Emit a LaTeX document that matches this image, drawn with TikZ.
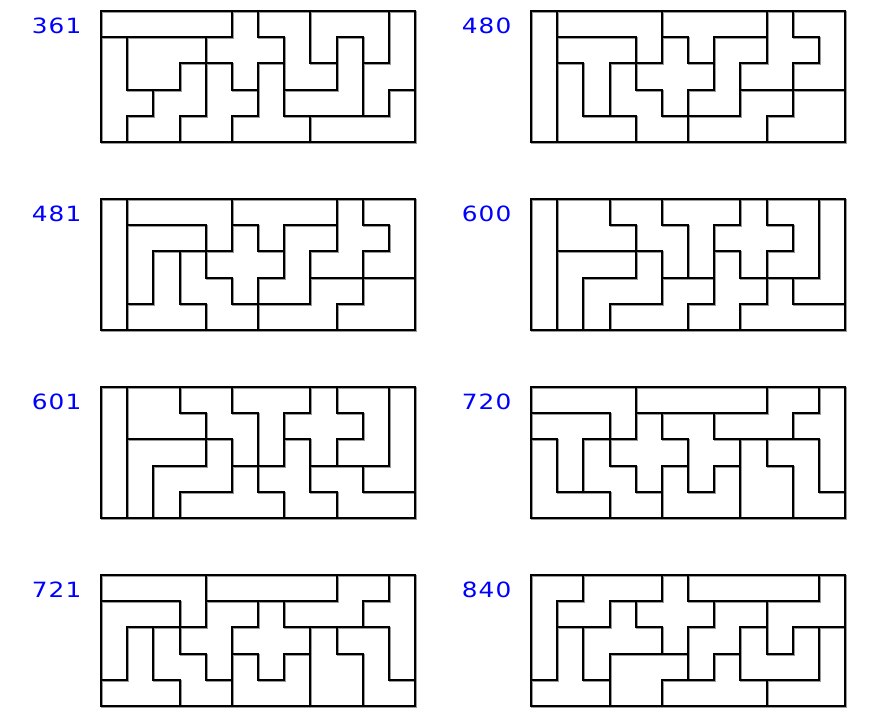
\documentclass[tikz,border=0pt]{standalone}
\usepackage{fontspec}
\newfontfamily\labelfont[FakeStretch=1.18, LetterSpace=5]{DejaVu Sans}
\newcount\tgrow
\newcount\tgcol
\def\tgrowloop#1{\ifx#1\relax\else\expandafter\xdef\csname tgc-\the\tgrow-\the\tgcol\endcsname{#1}\global\advance\tgcol by 1 \expandafter\tgrowloop\fi}
\def\tgsetrow#1{\global\tgcol=0 \tgrowloop#1\relax}
\newcommand\tgload[5]{\global\tgrow=0 \tgsetrow{#1}\global\tgrow=1 \tgsetrow{#2}\global\tgrow=2 \tgsetrow{#3}\global\tgrow=3 \tgsetrow{#4}\global\tgrow=4 \tgsetrow{#5}}
\newcommand\tgedges{%
  \foreach \ti in {0,...,4}{\foreach \tj in {0,...,10}{%
    \pgfmathtruncatemacro\tjn{\tj+1}%
    \expandafter\ifx\csname tgc-\ti-\tj\expandafter\endcsname\csname tgc-\ti-\tjn\endcsname\else
      \pgfmathsetmacro\xa{round(\tgx+\tjn*26.17)}%
      \pgfmathsetmacro\ya{round(\tgy+\ti*26.2)}%
      \pgfmathsetmacro\yb{round(\tgy+(\ti+1)*26.2)}%
      \draw (\xa,\ya) -- (\xa,\yb);\fi}}%
  \foreach \ti in {0,...,3}{\foreach \tj in {0,...,11}{%
    \pgfmathtruncatemacro\tin{\ti+1}%
    \expandafter\ifx\csname tgc-\ti-\tj\expandafter\endcsname\csname tgc-\tin-\tj\endcsname\else
      \pgfmathsetmacro\ya{round(\tgy+\tin*26.2)}%
      \pgfmathsetmacro\xa{round(\tgx+\tj*26.17)}%
      \pgfmathsetmacro\xb{round(\tgx+(\tj+1)*26.17)}%
      \draw (\xa,\ya) -- (\xb,\ya);\fi}}%
  \pgfmathsetmacro\xb{round(\tgx+12*26.17)}%
  \pgfmathsetmacro\yb{round(\tgy+5*26.2)}%
  \draw (\tgx,\tgy) rectangle (\xb,\yb);}
\newcommand\tgpanel[3]{%
  \def\tgx{#1}\def\tgy{#2}%
  \node[tglabel] (lbl#3) at (#1-19.5,#2+22.5) {#3};
  \begin{scope}[shift={(1,1)}, tgline, color=black!40]\tgedges\end{scope}
  \begin{scope}[tgline, color=black]\tgedges\end{scope}}
\begin{document}
\begin{tikzpicture}[x=1pt, y=-1pt,
  tgline/.style={line width=2pt, line cap=rect},
  tglabel/.style={font={\labelfont\fontsize{21pt}{21pt}\selectfont}, text=blue, inner sep=0pt, anchor=base east}]
\useasboundingbox (0,0) rectangle (895,720);
\tgload{IIIIIXZZUUUN}{YPPPXXXZUVUN}{YPPWFXTZZVNN}{YYWWFFTVVVNL}{YWWFFTTTLLLL}
\tgpanel{101}{11}{361}
\tgload{ILLLLYYYYFUU}{ITTTLXYZZFFU}{IVTWXXXZFFUU}{IVTWWXZZNNPP}{IVVVWWNNNPPP}
\tgpanel{531}{11}{480}
\tgload{ILLLLYYYYFUU}{IVVVLXYZZFFU}{IVTWXXXZFFUU}{IVTWWXZZNNPP}{ITTTWWNNNPPP}
\tgpanel{101}{199}{481}
\tgload{IPPWWTTTXUUL}{IPPPWWTXXXUL}{IVVVZWTFXUUL}{IVZZZNNFFYLL}{IVZNNNFFYYYY}
\tgpanel{531}{199}{600}
\tgload{IPPWWTTTXUUL}{IPPPWWTXXXUL}{IVVVZWTFXUUL}{IVZZZYFFNNLL}{IVZYYYYFFNNN}
\tgpanel{101}{387}{601}
\tgload{LLLLIIIIINNY}{TTTLXFFNNNYY}{VTWXXXFFPZZY}{VTWWXUFUPPZY}{VVVWWUUUPPZZ}
\tgpanel{531}{387}{720}
\tgload{LLLLIIIIINNY}{VVVLFFXNNNYY}{VTWFFXXXPZZY}{VTWWFUXUPPZY}{TTTWWUUUPPZZ}
\tgpanel{101}{575}{721}
\tgload{LLNNNXIIIIIZ}{LNNFXXXWWZZZ}{LTFFFXWWUZUV}{LTFPPPWYUUUV}{TTTPPYYYYVVV}
\tgpanel{531}{575}{840}
\end{tikzpicture}
\end{document}
